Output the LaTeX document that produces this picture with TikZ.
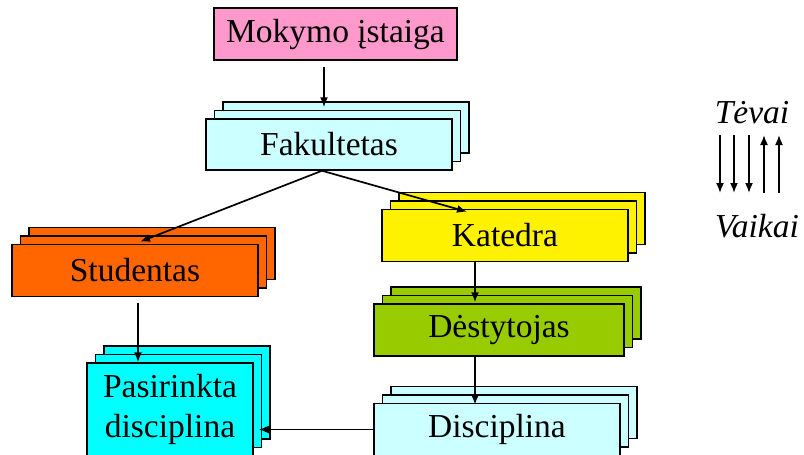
\documentclass[tikz,border=0pt]{standalone}
\usepackage{fontspec}
\setmainfont{Liberation Serif}
\usetikzlibrary{shadows, arrows.meta}
\definecolor{pinkbox}{HTML}{FF99CC}
\definecolor{lightcyan}{HTML}{CCFFFF}
\definecolor{orangebox}{HTML}{FF6600}
\definecolor{greenbox}{HTML}{99CC00}
\definecolor{cyanbox}{HTML}{00FFFF}
\tikzstyle{single} = [rectangle, inner sep=0pt, minimum width=246pt, minimum height=52pt, text centered, draw=black, line width=1.5pt]
\tikzstyle{stack} = [single, fill=#1, copy shadow={shadow xshift=17pt, shadow yshift=17pt, fill=#1, draw=black}, copy shadow={shadow xshift=8.5pt, shadow yshift=8.5pt, fill=#1, draw=black}]
\tikzstyle{arrow} = [-{Latex[length=10pt,width=8pt]}, line width=1.7pt]

\begin{document}
\begin{tikzpicture}[x=1pt, y=-1pt, font=\fontsize{33.5}{40}\selectfont]
\useasboundingbox (0,0) rectangle (804,455);
%boxes
\node[single, fill=pinkbox, minimum width=243pt](mok) at (335.5,34){Mokymo įstaiga};
\node[stack=lightcyan, minimum height=51pt](fak) at (329,144.5){Fakultetas};
\node[stack=orangebox](stud) at (135,270.5){Studentas};
\node[stack=yellow](kat) at (505,235.5){Katedra};
\node[stack=greenbox, minimum width=250pt](des) at (499,330){Dėstytojas};
\node[stack=lightcyan](disc) at (497,429.5){Disciplina};
\node[stack=cyanbox, minimum width=166pt, minimum height=93pt, align=center](pas) at (170,409.5){Pasirinkta\\disciplina};
%legend
\node[font=\fontsize{33.5}{40}\selectfont\itshape](tevai) at (752,113){Tėvai};
\node[font=\fontsize{33.5}{40}\selectfont\itshape](vaikai) at (757,226){Vaikai};
%connectors
\draw [arrow] ([xshift=-11.5pt,yshift=-6pt]mok.south) -- ([xshift=-5pt,yshift=11pt]fak.north);
\draw [arrow] ([xshift=-7pt]fak.south) -- ([xshift=5pt,yshift=2pt]stud.north);
\draw [arrow] ([xshift=-7pt]fak.south) -- ([xshift=-38pt,yshift=-3pt]kat.north);
\draw [arrow] ([xshift=3pt,yshift=-6pt]stud.south) -- ([xshift=-32pt]pas.north);
\draw [arrow] ([xshift=-30pt]kat.south) -- ([xshift=-24pt,yshift=1pt]des.north);
\draw [arrow] ([xshift=-24pt]des.south) -- ([xshift=-22pt,yshift=-2pt]disc.north);
\draw [arrow] ([xshift=2pt]disc.west) -- ([xshift=5pt]pas.east |- disc.west);
\foreach \x in {720,734,749}
  \draw [arrow] (\x,135) -- (\x,193);
\foreach \x in {764,779}
  \draw [arrow] (\x,193) -- (\x,135);
\end{tikzpicture}
\end{document}
